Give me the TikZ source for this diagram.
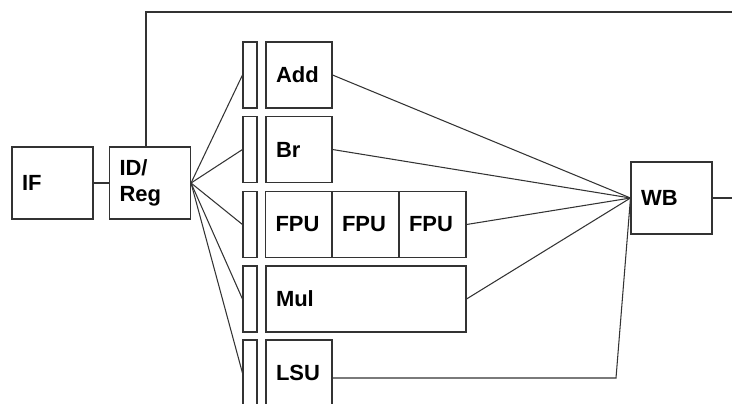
\documentclass[tikz,border=0pt]{standalone}
\usepackage{fontspec}
\setmainfont{Liberation Sans}
\usepackage{tikz}

\begin{document}
\begin{tikzpicture}[x=0.02cm,y=-0.02cm,
        line width=0.6pt, draw=black!80,
        unit/.style={draw=black!80, text width=#1, inner xsep=0.2cm, inner ysep=0pt,
                minimum height=1.32cm, align=left, font=\fontsize{12.5}{14.8}\selectfont\bfseries},
        stage/.style={unit=1.22cm, minimum height=1.44cm},
        latch/.style={draw=black!80, inner sep=0pt, minimum width=0.28cm, minimum height=1.32cm}]
        \clip (0,0) rectangle (732,403);
        % front end
        \node [stage] (IF) at (52.5,183) {IF};
        \node [stage] (ID) at (150,183) {ID/\\Reg};
        \draw (IF) -- (ID);
        % pipeline latches
        \node [latch] (L1) at (250,75) {};
        \node [latch] (L2) at (250,149.5) {};
        \node [latch] (L3) at (250,224.5) {};
        \node [latch] (L4) at (250,299) {};
        \node [latch] (L5) at (250,373) {};
        % execution units
        \node [unit=0.92cm] (Add) at (299,75) {Add};
        \node [unit=0.92cm] (Br) at (299,149.5) {Br};
        \node [unit=0.94cm] (FPU1) at (299,224.5) {FPU};
        \node [unit=0.94cm] (FPU2) at (365.5,224.5) {FPU};
        \node [unit=0.94cm] (FPU3) at (432.5,224.5) {FPU};
        \node [unit=3.6cm] (Mul) at (366,299) {Mul};
        \node [unit=0.92cm] (LSU) at (299,373) {LSU};
        % write back
        \node [stage] (WB) at (671.5,198) {WB};
        \coordinate (topend) at (740,12);
        \coordinate (wbend) at (740,198);
        \coordinate (lsuturn) at (616,378);
        \draw (ID.east) -- (L1.west);
        \draw (ID.east) -- (L2.west);
        \draw (ID.east) -- (L3.west);
        \draw (ID.east) -- (L4.west);
        \draw (ID.east) -- (L5.west);
        \draw (Add.east) -- (WB.west);
        \draw (Br.east) -- (WB.west);
        \draw (FPU3.east) -- (WB.west);
        \draw (Mul.east) -- (WB.west);
        \draw (LSU.east |- lsuturn) -- (lsuturn) -- (WB.west);
        \draw (WB.east) -- (wbend);
        \draw ([xshift=-0.08cm]ID.north) |- (topend);
\end{tikzpicture}
\end{document}
